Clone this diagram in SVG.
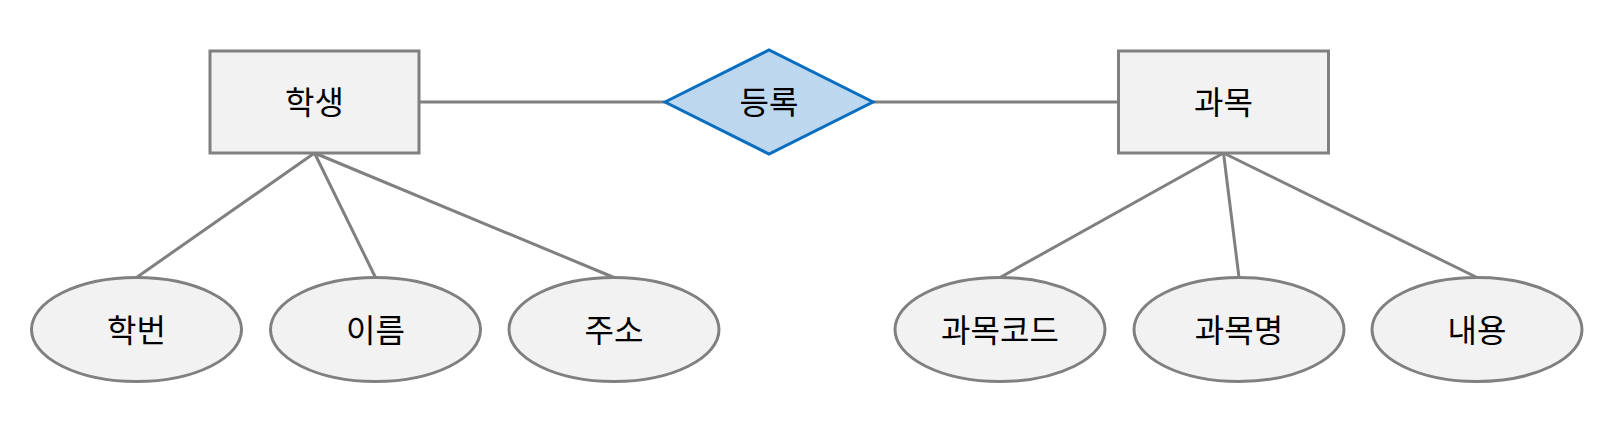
<svg xmlns="http://www.w3.org/2000/svg" width="1612" height="434" viewBox="0 0 1612 434">
<style>
.ent{fill:#F2F2F2;stroke:#808080;stroke-width:3}
.rel{fill:#BDD7EE;stroke:#0A6EC0;stroke-width:3}
.att{fill:#F2F2F2;stroke:#808080;stroke-width:3}
.ln{stroke:#808080;stroke-width:3;fill:none}
text{font-family:"Noto Sans CJK KR","Noto Sans",sans-serif;font-size:32px;font-weight:400;fill:#000;text-anchor:middle;dominant-baseline:central}
</style>
<rect width="1612" height="434" fill="#FFFFFF"/>
<g id="connectors">
<line class="ln" x1="419" y1="102" x2="665" y2="102"/>
<line class="ln" x1="873" y1="102" x2="1118" y2="102"/>
<line class="ln" x1="314.5" y1="153" x2="136.5" y2="277.5"/>
<line class="ln" x1="314.5" y1="153" x2="375.5" y2="277.5"/>
<line class="ln" x1="314.5" y1="153" x2="614" y2="277.5"/>
<line class="ln" x1="1223.5" y1="153" x2="1000" y2="277.5"/>
<line class="ln" x1="1223.5" y1="153" x2="1239" y2="277.5"/>
<line class="ln" x1="1223.5" y1="153" x2="1477" y2="277.5"/>
</g>
<g id="student"><rect class="ent" x="210" y="51" width="209" height="102"/><text x="314.5" y="100">학생</text></g>
<g id="enroll"><polygon class="rel" points="665,102 769,50 873,102 769,154"/><text x="769" y="100">등록</text></g>
<g id="course"><rect class="ent" x="1118.5" y="51" width="210" height="102"/><text x="1223.5" y="100">과목</text></g>
<g id="attr-hakbeon"><ellipse class="att" cx="136.5" cy="329.5" rx="105" ry="52"/><text x="136.5" y="328">학번</text></g>
<g id="attr-ireum"><ellipse class="att" cx="375.5" cy="329.5" rx="105" ry="52"/><text x="375.5" y="328">이름</text></g>
<g id="attr-juso"><ellipse class="att" cx="614" cy="329.5" rx="105" ry="52"/><text x="614" y="328">주소</text></g>
<g id="attr-gwamokcode"><ellipse class="att" cx="1000" cy="329.5" rx="105" ry="52"/><text x="1000" y="328">과목코드</text></g>
<g id="attr-gwamokmyeong"><ellipse class="att" cx="1239" cy="329.5" rx="105" ry="52"/><text x="1239" y="328">과목명</text></g>
<g id="attr-naeyong"><ellipse class="att" cx="1477" cy="329.5" rx="105" ry="52"/><text x="1477" y="328">내용</text></g>
</svg>
